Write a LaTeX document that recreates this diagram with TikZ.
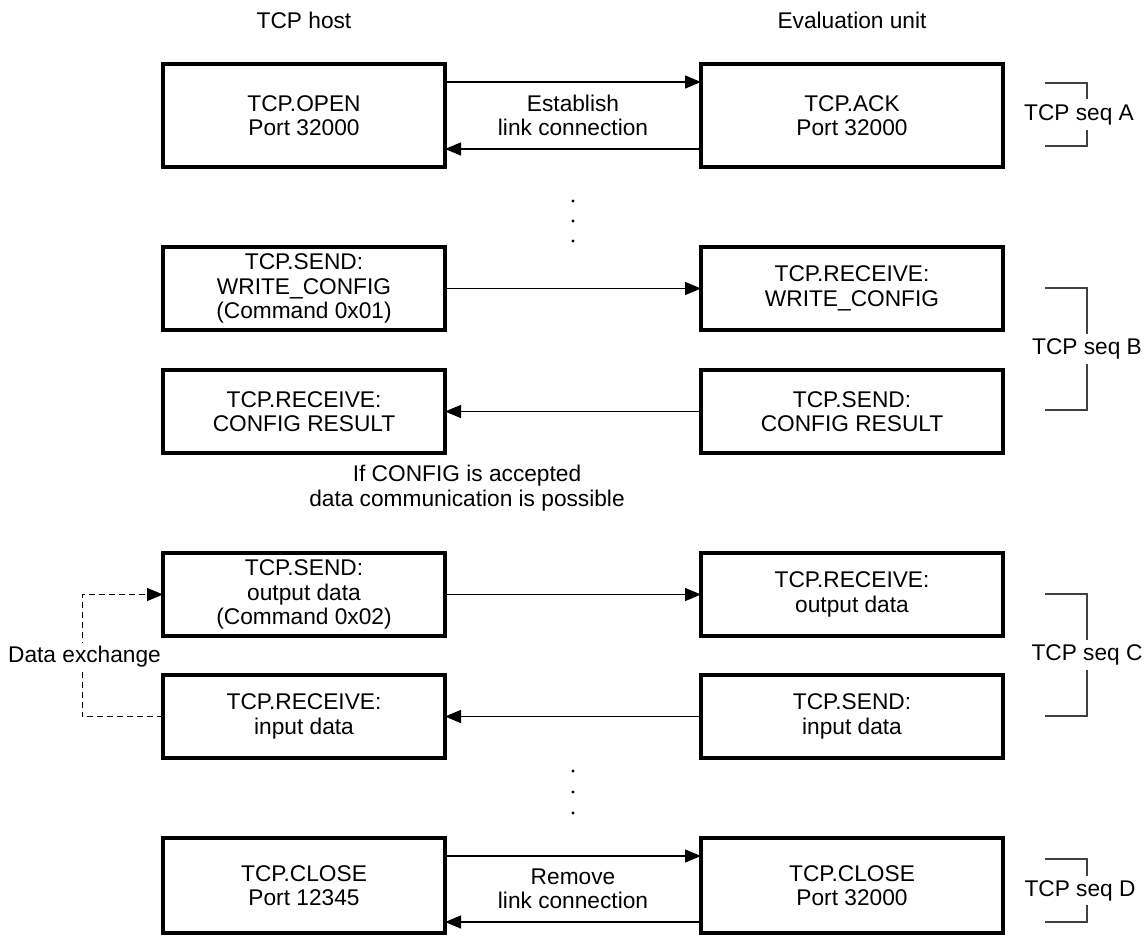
\documentclass[tikz,border=0pt]{standalone}
\usepackage{fontspec}
\setmainfont{Liberation Sans}
\usetikzlibrary{arrows.meta}
\newcommand\diagfont{\fontsize{22.7}{24.5}\selectfont}
\begin{document}
\begin{tikzpicture}[x=1pt,y=-1pt,
  lbl/.style={font=\diagfont,align=center,inner sep=0pt},
  box/.style={lbl,draw,line width=4.3pt,outer sep=0pt},
  hostbox/.style={box,minimum width=282pt},
  unitbox/.style={box,minimum width=302pt},
  tall/.style={minimum height=103pt},
  short/.style={minimum height=83pt},
  msg/.style={line width=1.3pt,-{Triangle[length=16pt,width=13pt]}},
  loop/.style={line width=1pt,dash pattern=on 6pt off 4pt,-{Triangle[length=16pt,width=13pt]}},
  brk/.style={line width=1.3pt,black!75},
  seq/.style={lbl},
  dot/.style={circle,fill=black,inner sep=0pt,minimum size=3.2pt}]
\useasboundingbox (0,0) rectangle (1147,936);

% column headings
\node[lbl] (hhost) at (304,20) {TCP host};
\node[lbl] (hunit) at (852,20) {Evaluation unit};

% link establishment
\node[hostbox,tall] (open) at (304,115.5) {TCP.OPEN\\Port 32000};
\node[unitbox,tall] (ack) at (852,115.5) {TCP.ACK\\Port 32000};
\draw[msg] ([yshift=-18pt]open.north east) -- ([yshift=-18pt]ack.north west);
\draw[msg] ([yshift=18pt]ack.south west) -- ([yshift=18pt]open.south east);
\node[lbl] (est) at (573,115.5) {Establish\\link connection};

\node[dot] (d1) at (573,201) {};
\node[dot] (d2) at (573,221) {};
\node[dot] (d3) at (573,241) {};

% configuration
\node[hostbox,short] (sendcfg) at (304,288.5) {TCP.SEND:\\WRITE\_CONFIG\\(Command 0x01)};
\node[unitbox,short] (recvcfg) at (852,288.5) {TCP.RECEIVE:\\WRITE\_CONFIG};
\node[hostbox,short] (recvres) at (304,411.5) {TCP.RECEIVE:\\CONFIG RESULT};
\node[unitbox,short] (sendres) at (852,411.5) {TCP.SEND:\\CONFIG RESULT};
\draw[msg] (sendcfg) -- (recvcfg);
\draw[msg] (sendres) -- (recvres);

\node[lbl] (cond) at (467,488) {If CONFIG is accepted\\data communication is possible};

% cyclic data exchange
\node[hostbox,short] (sendout) at (304,594.5) {TCP.SEND:\\output data\\(Command 0x02)};
\node[unitbox,short] (recvout) at (852,594.5) {TCP.RECEIVE:\\output data};
\node[hostbox,short] (recvin) at (304,716.5) {TCP.RECEIVE:\\input data};
\node[unitbox,short] (sendin) at (852,716.5) {TCP.SEND:\\input data};
\draw[msg] (sendout) -- (recvout);
\draw[msg] (sendin) -- (recvin);

\draw[loop] (recvin.west) -- ++(-81,0) |- (sendout.west);
\node[lbl,fill=white,inner ysep=3pt] (dx) at (84.5,657) {Data exchange};

\node[dot] (d4) at (573,771) {};
\node[dot] (d5) at (573,792) {};
\node[dot] (d6) at (573,813) {};

% link removal
\node[hostbox,minimum height=95pt] (closeh) at (304,885.5) {TCP.CLOSE\\Port 12345};
\node[unitbox,minimum height=95pt] (closeu) at (852,885.5) {TCP.CLOSE\\Port 32000};
\draw[msg] ([yshift=-18pt]closeh.north east) -- ([yshift=-18pt]closeu.north west);
\draw[msg] ([yshift=11pt]closeu.south west) -- ([yshift=11pt]closeh.south east);
\node[lbl] (rem) at (573,889) {Remove\\link connection};

% sequence brackets
\draw[brk] (1045,83) -| (1087,99);
\draw[brk] (1045,146) -| (1087,130);
\node[seq] (sa) at (1079,114.5) {TCP seq A};

\draw[brk] (1045,288) -| (1087,334);
\draw[brk] (1045,410) -| (1087,364);
\node[seq] (sb) at (1087,349) {TCP seq B};

\draw[brk] (1045,594) -| (1087,640);
\draw[brk] (1045,716) -| (1087,670);
\node[seq] (sc) at (1087,655) {TCP seq C};

\draw[brk] (1045,859) -| (1087,876);
\draw[brk] (1045,922) -| (1087,905);
\node[seq] (sd) at (1080,890.5) {TCP seq D};
\end{tikzpicture}
\end{document}
